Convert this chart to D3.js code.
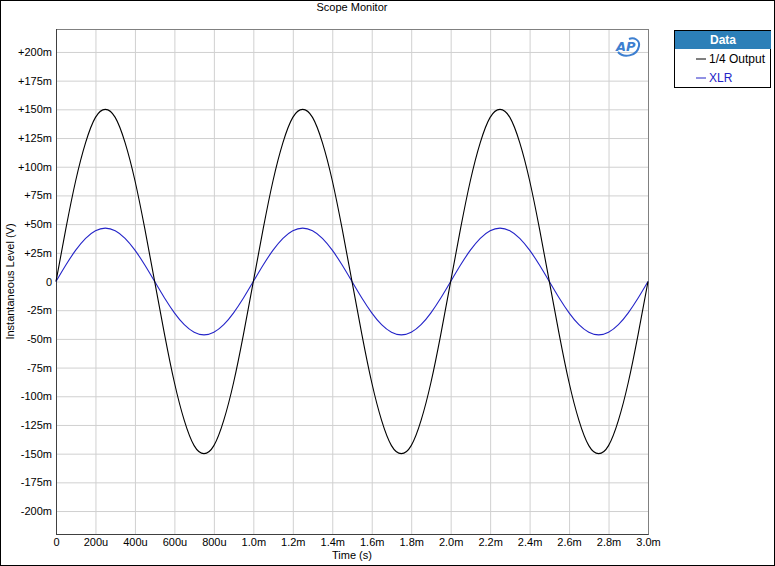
<!DOCTYPE html>
<html>
<head>
<meta charset="utf-8">
<script src="https://cdn.jsdelivr.net/npm/d3@7"></script>
<style>
  body { margin: 0; background: #fff; }
  text { font-family: "Liberation Sans", Arial, sans-serif; font-size: 11px; fill: #000; }
</style>
</head>
<body>
<svg id="chart" width="775" height="566"></svg>
<script>
// sample times in microseconds
const timeUs = [0, 50, 100, 150, 200, 250, 300, 350, 400, 450, 500, 550, 600, 650, 700, 750, 800, 850, 900, 950,
  1000, 1050, 1100, 1150, 1200, 1250, 1300, 1350, 1400, 1450, 1500, 1550, 1600, 1650, 1700, 1750, 1800, 1850, 1900, 1950,
  2000, 2050, 2100, 2150, 2200, 2250, 2300, 2350, 2400, 2450, 2500, 2550, 2600, 2650, 2700, 2750, 2800, 2850, 2900, 2950, 3000]

// 1/4 Output, millivolts
const outputMv = [0, 46, 88, 121, 143, 150, 143, 121, 88, 46, 0, -46, -88, -121, -143, -150, -143, -121, -88, -46,
  0, 46, 88, 121, 143, 150, 143, 121, 88, 46, 0, -46, -88, -121, -143, -150, -143, -121, -88, -46,
  0, 46, 88, 121, 143, 150, 143, 121, 88, 46, 0, -46, -88, -121, -143, -150, -143, -121, -88, -46, 0]

// XLR, millivolts
const xlrMv = [0, 14.4, 27.3, 37.6, 44.2, 46.5, 44.2, 37.6, 27.3, 14.4, 0, -14.4, -27.3, -37.6, -44.2, -46.5, -44.2, -37.6, -27.3, -14.4,
  0, 14.4, 27.3, 37.6, 44.2, 46.5, 44.2, 37.6, 27.3, 14.4, 0, -14.4, -27.3, -37.6, -44.2, -46.5, -44.2, -37.6, -27.3, -14.4,
  0, 14.4, 27.3, 37.6, 44.2, 46.5, 44.2, 37.6, 27.3, 14.4, 0, -14.4, -27.3, -37.6, -44.2, -46.5, -44.2, -37.6, -27.3, -14.4, 0]

const xTicks = [0, 200, 400, 600, 800, 1000, 1200, 1400, 1600, 1800, 2000, 2200, 2400, 2600, 2800, 3000]
const xTickLabels = ['0', '200u', '400u', '600u', '800u', '1.0m', '1.2m', '1.4m', '1.6m', '1.8m', '2.0m', '2.2m', '2.4m', '2.6m', '2.8m', '3.0m']
const yTicks = [200, 175, 150, 125, 100, 75, 50, 25, 0, -25, -50, -75, -100, -125, -150, -175, -200]
const yTickLabels = ['+200m', '+175m', '+150m', '+125m', '+100m', '+75m', '+50m', '+25m', '0', '-25m', '-50m', '-75m', '-100m', '-125m', '-150m', '-175m', '-200m']

const seriesNames = ['1/4 Output', 'XLR']
const seriesColors = ['#000000', '#2424c8']

const svg = d3.select('#chart')
const width = 775
const height = 566
const margin = { top: 29, right: 127, bottom: 32, left: 56 }
const innerWidth = width - margin.left - margin.right
const innerHeight = height - margin.top - margin.bottom

// outer frame
svg.append('rect')
  .attr('x', 0.5).attr('y', 0.5)
  .attr('width', width - 1).attr('height', height - 1)
  .attr('fill', 'none')
  .attr('stroke', '#000')

const xScale = d3.scaleLinear()
  .domain([0, 3000])
  .range([0, innerWidth])
const yScale = d3.scaleLinear()
  .domain([-220, 220])
  .range([innerHeight, 0])

const g = svg.append('g')
  .attr('transform', `translate(${margin.left},${margin.top})`)

// grid
const xAxisG = g.append('g')
  .attr('transform', `translate(0,${innerHeight})`)
  .call(d3.axisBottom(xScale).tickValues(xTicks).tickSize(innerHeight).tickPadding(4)
    .tickFormat((d, i) => xTickLabels[i]))
  .attr('transform', 'translate(0,0)')

xAxisG.select('.domain').remove()
xAxisG.selectAll('.tick line')
  .attr('stroke', '#d0d0d0')
xAxisG.selectAll('.tick text')
  .attr('y', innerHeight + 4)
  .attr('dy', '0.71em')
  .style('font-size', '11px')
  .style('font-family', '"Liberation Sans", Arial, sans-serif')
  .attr('fill', '#000')

const yAxisG = g.append('g')
  .call(d3.axisLeft(yScale).tickValues(yTicks).tickSize(0).tickPadding(4)
    .tickFormat((d, i) => yTickLabels[i]))

yAxisG.select('.domain').remove()
yAxisG.selectAll('.tick')
  .append('line')
  .attr('x2', innerWidth)
  .attr('stroke', '#d0d0d0')
yAxisG.selectAll('.tick text')
  .style('font-size', '11px')
  .style('font-family', '"Liberation Sans", Arial, sans-serif')
  .attr('fill', '#000')

// plot frame
g.append('rect')
  .attr('x', 0.5).attr('y', 0.5)
  .attr('width', innerWidth).attr('height', innerHeight)
  .attr('fill', 'none')
  .attr('stroke', '#808080')
g.append('line')
  .attr('x1', 0.5).attr('x2', 0.5)
  .attr('y1', 0).attr('y2', innerHeight + 0.5)
  .attr('stroke', '#404040')
g.append('line')
  .attr('x1', 0).attr('x2', innerWidth + 0.5)
  .attr('y1', innerHeight + 0.5).attr('y2', innerHeight + 0.5)
  .attr('stroke', '#404040')

// traces
const line = d3.line()
  .x(d => xScale(d[0]))
  .y(d => yScale(d[1]))
  .curve(d3.curveNatural)

const seriesData = [outputMv, xlrMv]
// draw XLR first so output sits on top where they cross
;[1, 0].forEach(k => {
  g.append('path')
    .datum(timeUs.map((t, i) => [t, seriesData[k][i]]))
    .attr('d', line)
    .attr('fill', 'none')
    .attr('stroke', seriesColors[k])
    .attr('stroke-width', 1.1)
})

// AP logo
const logo = g.append('g')
  .attr('transform', `translate(${innerWidth - 33},9)`)
logo.append('path')
  .attr('d', 'M3,14 C8,20 22,19 24,8 C25,2 19,-1 14,1')
  .attr('fill', 'none')
  .attr('stroke', '#3d7fd0')
  .attr('stroke-width', 2)
logo.append('text')
  .attr('x', 1).attr('y', 13)
  .style('font-size', '13px')
  .style('font-weight', 'bold')
  .style('font-style', 'italic')
  .style('font-family', '"DejaVu Sans", sans-serif')
  .style('fill', '#3d7fd0')
  .text('AP')

// titles
svg.append('text')
  .attr('x', margin.left + innerWidth / 2)
  .attr('y', 11)
  .attr('text-anchor', 'middle')
  .text('Scope Monitor')

svg.append('text')
  .attr('x', margin.left + innerWidth / 2)
  .attr('y', 559)
  .attr('text-anchor', 'middle')
  .text('Time (s)')

svg.append('text')
  .attr('transform', `translate(14,${margin.top + innerHeight / 2}) rotate(-90)`)
  .attr('text-anchor', 'middle')
  .text('Instantaneous Level (V)')

// legend
const lg = svg.append('g').attr('transform', 'translate(674,30)')
lg.append('rect')
  .attr('x', 0.5).attr('y', 0.5)
  .attr('width', 96).attr('height', 57)
  .attr('fill', '#fff')
  .attr('stroke', '#000')
lg.append('rect')
  .attr('x', 1).attr('y', 1)
  .attr('width', 96).attr('height', 18)
  .attr('fill', '#2c7fb8')
lg.append('text')
  .attr('x', 49).attr('y', 14)
  .attr('text-anchor', 'middle')
  .style('font-weight', 'bold')
  .style('font-size', '12px')
  .style('fill', '#fff')
  .text('Data')

seriesNames.forEach((name, i) => {
  const y = 29 + i * 19
  lg.append('line')
    .attr('x1', 22).attr('x2', 32)
    .attr('y1', y).attr('y2', y)
    .attr('stroke', seriesColors[i])
  lg.append('text')
    .attr('x', 35).attr('y', y + 4)
    .style('font-size', '12px')
    .style('fill', seriesColors[i])
    .text(name)
})
</script>
</body>
</html>
